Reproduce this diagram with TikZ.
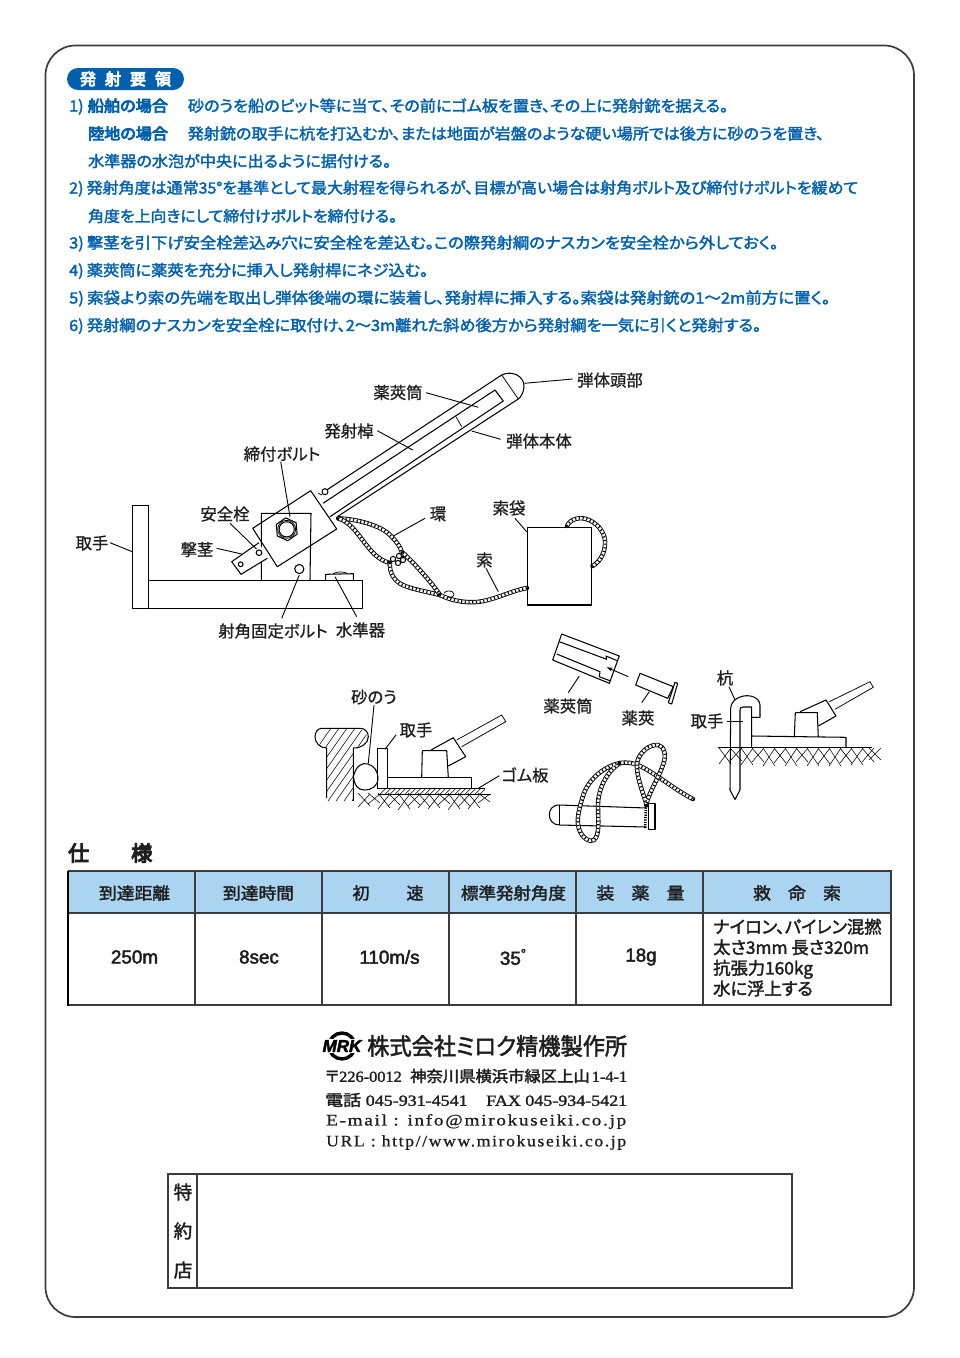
\documentclass[tikz,border=0pt]{standalone}
\usepackage{fontspec}
\usepackage{graphicx}
\usetikzlibrary{arrows.meta}
\setmainfont{Liberation Sans}
\newfontfamily\cjk[RawFeature=+palt,FakeBold=0.8]{Noto Sans CJK JP}
\newfontfamily\cjkm[RawFeature=+palt,FakeBold=2]{Noto Sans CJK JP}
\newfontfamily\cjkb[RawFeature=+palt,UprightFont=*,FakeBold=5]{Noto Sans CJK JP}
\newfontfamily\lat[FakeBold=2.5]{Liberation Sans}
\newfontfamily\ser{Liberation Serif}
\newfontfamily\serm[FakeBold=1.5]{Liberation Serif}
\newfontfamily\sers[LetterSpace=9,FakeBold=0.8]{Liberation Serif}
\definecolor{brand}{HTML}{0060AE}
\definecolor{headblue}{HTML}{ABD4F1}
\definecolor{ink}{HTML}{1E1E1E}
\definecolor{framegray}{HTML}{3C3C3C}
\tikzset{
  x=1pt,y=-1pt,
  plain/.style={line width=1.05pt,black,line join=round},
  thinl/.style={line width=0.75pt,black},
  leader/.style={line width=0.9pt,black},
  hatchl/.style={line width=0.55pt,black},
  bodyline/.style={anchor=west,inner sep=0pt,text=brand,font=\cjkm\fontsize{15.4}{18}\selectfont},
  lab/.style={inner sep=0pt,text=ink,font=\cjk\fontsize{16.4}{18}\selectfont},
  thead/.style={inner sep=0pt,text=ink,font=\cjkm\fontsize{16.6}{20}\selectfont},
  tdata/.style={inner sep=0pt,text=ink,font=\lat\fontsize{18.8}{20}\selectfont},
  addr/.style={anchor=west,inner sep=0pt,text=ink},
  rope/.style={line width=4.4pt,black,line cap=round,
    postaction={draw,white,line width=2.6pt,line cap=butt,
      postaction={draw,black,line width=2.6pt,line cap=butt,dash pattern=on 1.1pt off 2.6pt}}},
}
\newcommand\lead[3]{\coordinate (#1a) at #2; \coordinate (#1b) at #3; \draw[leader] (#1a) -- (#1b);}
\newcommand\xfit[2]{\resizebox{#1pt}{\height}{#2}}
\begin{document}
\begin{tikzpicture}
\useasboundingbox (0,0) rectangle (960,1358);
\fill[white] (0,0) rectangle (960,1358);
% outer frame
\draw[framegray,line width=1.7pt,rounded corners=30pt] (45.5,45.5) rectangle (914,1317);
% section pill
\node[fill=brand,rounded corners=11pt,minimum width=117pt,minimum height=22pt,inner sep=0pt,text=white,font=\cjkb\fontsize{16}{18}\selectfont] (pill) at (125.5,79) {発\hspace{9pt}射\hspace{9pt}要\hspace{9pt}領};
% instructions
\node[bodyline] (t1) at (69,106.5) {\xfit{659}{1)\hspace{4pt}{\cjkb 船舶の場合}\hspace{19pt}砂のうを船のビット等に当て、その前にゴム板を置き、その上に発射銃を据える。}};
\node[bodyline] (t2) at (88,133.5) {\xfit{736}{{\cjkb 陸地の場合}\hspace{19pt}発射銃の取手に杭を打込むか、または地面が岩盤のような硬い場所では後方に砂のうを置き、}};
\node[bodyline] (t3) at (88,161) {\xfit{303}{水準器の水泡が中央に出るように据付ける。}};
\node[bodyline] (t4) at (69,188.5) {\xfit{789}{2)\hspace{3pt}発射角度は通常35°を基準として最大射程を得られるが、目標が高い場合は射角ボルト及び締付けボルトを緩めて}};
\node[bodyline] (t5) at (88,216) {\xfit{309}{角度を上向きにして締付けボルトを締付ける。}};
\node[bodyline] (t6) at (69,243.5) {\xfit{709}{3)\hspace{3pt}撃茎を引下げ安全栓差込み穴に安全栓を差込む。この際発射綱のナスカンを安全栓から外しておく。}};
\node[bodyline] (t7) at (69,271) {\xfit{359}{4)\hspace{3pt}薬莢筒に薬莢を充分に挿入し発射桿にネジ込む。}};
\node[bodyline] (t8) at (69,298.5) {\xfit{761}{5)\hspace{3pt}索袋より索の先端を取出し弾体後端の環に装着し、発射桿に挿入する。索袋は発射銃の1～2m前方に置く。}};
\node[bodyline] (t9) at (69,326) {\xfit{692}{6)\hspace{3pt}発射綱のナスカンを安全栓に取付け、2～3m離れた斜め後方から発射綱を一気に引くと発射する。}};

% ===== main gun =====
\draw[plain] (132.3,505.7) rectangle (148.7,608.3);
\draw[plain] (148.7,580.3) -- (362.3,580.3) -- (362.3,608.3) -- (148.7,608.3);
\draw[plain] (261.3,580.3) -- (261.3,513.3) -- (311,513.3) -- (310,580.3);
% tube
\draw[plain] (326.7,490) -- (501.7,375) .. controls (512,370) and (524,376) .. (524,386) .. controls (524,392) and (521,397) .. (518.3,399) -- (338.3,516);
\draw[thinl] (501.7,375) -- (518.3,399);
\draw[plain] (323,503.3) -- (495,390) -- (503.3,401) -- (330,516.7);
\draw[thinl] (456,416.7) -- (461.7,426.7);
% striker and pin
\draw[plain,fill=white] (259,542.7) -- (231.7,561.7) -- (241,574.3) -- (267.3,558.3);
\draw[plain] (240.7,564.3) circle (2.4);
\draw[plain,fill=white] (259,552.7) circle (2.8);
% plate
\draw[plain] (252.7,528.3) -- (310.7,490.7) -- (336.7,529) -- (277.3,566.7) -- cycle;
\draw[plain] (325,491.7) circle (3);
\draw[thinl] (318.3,493.3) -- (322,495);
% bolt
\draw[plain] (286.7,529.3) +(25:11.5) -- +(85:11.5) -- +(145:11.5) -- +(205:11.5) -- +(265:11.5) -- +(325:11.5) -- cycle;
\draw[plain] (286.7,529.3) circle (7.6);
\draw[thinl] (286.7,529.3) circle (9);
\draw[plain] (299.3,569) circle (4.6);
% level
\draw[plain] (325.7,580.3) -- (325.7,574.3) -- (353.3,573.7) -- (353.3,580.3);
\draw[thinl] (333,574) .. controls (336,571.5) and (344,571) .. (348,573.7);
% ropes
\draw[rope] (338.3,518.3) .. controls (356,519) and (380,525) .. (390,535) .. controls (397,542) and (403,550) .. (402,556);
\draw[rope] (338.3,518.3) .. controls (352,523) and (358,535) .. (368,547) .. controls (375,556) and (382,561) .. (390,563);
\draw[rope] (390,563) .. controls (389,572) and (394,582) .. (405,586) .. controls (416,590) and (428,592) .. (440,595);
\draw[rope] (403,553) .. controls (411,560) and (430,580) .. (440,595);
\draw[rope] (440,595) .. controls (450,600) and (463,603) .. (477,602) .. controls (495,600) and (510,591) .. (527,588);
\draw[plain,fill=white] (393,559) circle (2.6) (399,556) circle (2.6) (403,560) circle (2.6) (398,563) circle (2.6);
\draw[thinl] (444,593) .. controls (446,590) and (453,590) .. (454,594) .. controls (454,597) and (450,598) .. (448,597);
% bag
\draw[plain] (527.7,527.3) rectangle (591.7,605);
\draw[rope] (567,526) .. controls (570,519) and (580,516) .. (589,520) .. controls (600,525) and (606,535) .. (605,545) .. controls (604,556) and (598,563) .. (592.5,566);
% leaders and labels - main figure
\node[lab] (hd) at (610,380) {弾体頭部}; \lead{hd}{(524.3,383.3)}{(572.7,379)}
\node[lab] (cs) at (398,392.5) {薬莢筒}; \lead{cs}{(426,392.7)}{(478.3,407.3)}
\node[lab] (rd) at (349,431) {発射棹}; \lead{rd}{(377.3,430.7)}{(412.7,450)}
\node[lab] (bd) at (539,441) {弾体本体}; \lead{bd}{(471.7,431)}{(500.7,439.3)}
\node[lab] (sh) at (282,454) {締付ボルト}; \lead{sh}{(280.7,461.7)}{(290,516.7)}
\node[lab] (an) at (225,514) {安全栓}; \lead{an}{(230,523.3)}{(256.5,549)}
\node[lab] (gk) at (197,549.5) {撃茎}; \lead{gk}{(216.7,548.3)}{(241.7,554)}
\node[lab] (to) at (92,543) {取手}; \lead{to}{(110,542.7)}{(132.3,551.7)}
\node[lab] (kk) at (273,631) {射角固定ボルト}; \lead{kk}{(299.3,575)}{(281.7,618.3)}
\node[lab] (sj) at (360.5,630) {水準器}; \lead{sj}{(335,576.7)}{(356.7,616.7)}
\node[lab] (wa) at (438,514) {環}; \lead{wa}{(425,518.3)}{(393.3,536)}
\node[lab] (fu) at (509,508) {索袋}; \lead{fu}{(515,518.3)}{(526.7,531.7)}
\node[lab] (sa) at (484.5,560) {索}; \lead{sa}{(486,568.3)}{(498.3,591.7)}

% ===== bitt figure =====
\begin{scope}
\clip (326.7,801) -- (326.7,748) -- (316.7,743) -- (315,736.7) -- (321.7,728.3) -- (360,728.3) -- (368.3,736.7) -- (363.3,745) -- (353.3,748) -- (353.3,801) -- cycle;
\foreach \i in {0,8,...,96} \draw[hatchl] (315+\i-35,801) -- ++(70,-100);
\end{scope}
\draw[plain] (326.7,798) -- (326.7,748) .. controls (320,748) and (315,743) .. (315,736.7) .. controls (315,732) and (318,728.3) .. (321.7,728.3) -- (360,728.3) .. controls (365,728.3) and (368.3,732) .. (368.3,736.7) .. controls (368.3,743) and (362,748) .. (353.3,748) -- (353.3,801);
\draw[plain,fill=white] (353.5,776) .. controls (356,766) and (362,762) .. (368,764) .. controls (374,766) and (378,771) .. (378,778) .. controls (378,786) and (372,790) .. (364,790) .. controls (358,790) and (354,785) .. (353.5,776) -- cycle;
\draw[plain] (377.7,748.3) rectangle (387.3,788.3);
\draw[plain] (387.3,777.3) -- (471.7,777.3) -- (471.7,788.3);
\draw[plain] (422.3,750.7) -- (446.7,750.7) -- (448.3,777.3);
\draw[plain] (422.3,750.7) -- (421.7,777.3);
\draw[plain] (431,750) -- (453.3,737.7) -- (465.7,756.7) -- (448.3,766);
\draw[thinl] (456.7,740) -- (501.7,715) -- (505.7,721.7) -- (461.7,746.7);
\draw[plain] (377.7,788.3) -- (485,788.3);
\draw[plain] (377.7,794.3) -- (491,794.3);
\begin{scope}
\clip (377.7,788.3) rectangle (485,794.3);
\foreach \i in {380,385,...,490} \draw[hatchl] (\i,794.3) -- ++(6,-6);
\end{scope}
\foreach \i/\h in {358/13,368/10,378/15,388/12,398/16,408/12,418/14,428/15,438/11,448/16,458/13,468/15,478/9}
  \draw[hatchl] (\i,793) -- (\i+12,793+\h) (\i+12,794) -- (\i,794+\h);
\node[lab] (sn) at (374,697) {砂のう}; \lead{sn}{(374,705)}{(368.3,763.3)}
\node[lab] (th) at (416,730) {取手}; \lead{th}{(396,735)}{(385,749.3)}
\node[lab] (gm) at (525,775) {ゴム板}; \lead{gm}{(499.3,775.7)}{(478.3,788.3)}

% ===== cartridge detail =====
\draw[plain] (561.7,634) -- (619.3,656) -- (609.3,683.3) -- (552.7,660) -- cycle;
\draw[plain] (559.3,641.7) -- (606.7,659.3) -- (606,656) -- (618,661);
\draw[plain] (556.7,654) -- (600,671.7) -- (599.3,676.7) -- (610.7,681);
\coordinate (arA) at (628.3,676.7); \coordinate (arB) at (606.7,667.3);
\draw[leader,-{Stealth[length=6pt,width=4pt]}] (arA) -- (arB);
\draw[plain] (640,673.3) -- (673.3,686.7) -- (667.7,698.3) -- (635.7,685) -- cycle;
\draw[plain] (675,682.3) -- (677.7,683.3) -- (671.7,704) -- (668.3,702.7) -- cycle;
\node[lab] (ct) at (568,706) {薬莢筒}; \lead{ct}{(579.3,676)}{(568.3,692.7)}
\node[lab] (cc) at (638,718) {薬莢}; \lead{cc}{(649.3,691.7)}{(641.7,702.7)}

% ===== projectile with rope =====
\draw[plain] (559.3,805) .. controls (552,805) and (549.3,810) .. (549.3,815) .. controls (549.3,820) and (553,825) .. (559.3,825);
\draw[plain] (559.3,805) -- (646.7,808) (559.3,825) -- (646.7,827);
\draw[thinl] (559.3,805) -- (559.3,825);
\draw[plain] (648.3,803.3) rectangle (655,829.3);
\draw[rope] (620,763) .. controls (605,766) and (590,778) .. (584,793) .. controls (579,808) and (576,820) .. (579,829) .. controls (582,838) and (590,843) .. (594,840) .. controls (600,835) and (598,820) .. (598,805) .. controls (598,790) and (606,772) .. (620,763);
\draw[rope] (620,763) .. controls (628,762) and (634,763) .. (640,766) .. controls (655,773) and (675,790) .. (693,799);
\draw[rope] (646.7,805) .. controls (642,790) and (636,775) .. (637,763) .. controls (639,752) and (650,744) .. (658,745) .. controls (664,746) and (667,755) .. (663,765) .. controls (659,777) and (650,790) .. (646,805);
\draw[line width=2.6pt,black,dash pattern=on 1.2pt off 1.2pt] (646,805) -- (645,829);

% ===== peg figure =====
\draw[plain] (730,790) -- (730.7,708.3) .. controls (731,700) and (740,695.7) .. (747,695.7) .. controls (755,695.7) and (760,700) .. (760,705) -- (760,717.3) -- (751.7,717.3);
\draw[plain] (740,790) -- (740,710) .. controls (740,708) and (741,707) .. (743,707) -- (751.7,707) -- (751.7,747.3);
\draw[plain] (730,790) -- (735,799.5) -- (740,790);
\draw[plain] (751.7,736) -- (846,737.3) -- (846,747.3);
\draw[plain] (717.7,747.3) -- (871.7,747.3);
\draw[plain] (795.3,712.7) -- (817.3,712.7) -- (818.3,737.3);
\draw[plain] (795.3,712.7) -- (794.3,737.3);
\draw[plain] (800,711.7) -- (826,700) -- (836,716) -- (818.3,726);
\draw[thinl] (829.3,701.7) -- (870,681.7) -- (873.3,687.3) -- (835,709.3);
\foreach \i/\h in {719/16,730/13,741/17,752/14,763/18,774/15,785/18,796/14,807/18,818/16,829/18,840/15,851/17,862/14,869/12}
  \draw[hatchl] (\i,748) -- (\i+12,748+\h) (\i+12,748) -- (\i,748+\h);
\node[lab] (pg) at (725,678) {杭}; \lead{pg}{(729,686.7)}{(735,700)}
\node[lab] (hn) at (707,721) {取手}; \lead{hn}{(726.7,721)}{(743.3,721)}

% ===== spec table =====
\node[anchor=west,inner sep=0pt,text=ink,font=\cjkb\fontsize{21}{24}\selectfont] (spec) at (68,853) {仕\hspace{42pt}様};
\fill[headblue] (68,871) rectangle (891,913);
\draw[framegray,line width=1.2pt] (68,871) -- (891,871) -- (891,1005) -- (68,1005);
\draw[framegray,line width=1.2pt] (68,913) -- (891,913);
\draw[black,line width=2pt] (68,870.5) -- (68,1005.5);
\foreach \x in {195,322,449,576,703} \draw[framegray,line width=1.2pt] (\x,871) -- (\x,1005);
\node[thead] (h1) at (134.5,893) {\xfit{71}{到達距離}};
\node[thead] (h2) at (258.5,893) {\xfit{71}{到達時間}};
\node[thead] (h3) at (388,893) {\xfit{71}{初\hspace{36pt}速}};
\node[thead] (h4) at (513.5,893) {\xfit{105}{標準発射角度}};
\node[thead] (h5) at (640.5,893) {\xfit{88}{装\hspace{16pt}薬\hspace{16pt}量}};
\node[thead] (h6) at (797,893) {\xfit{88}{救\hspace{16pt}命\hspace{16pt}索}};
\node[tdata] (d1) at (134.5,957) {250m};
\node[tdata] (d2) at (259,957) {8sec};
\node[tdata] (d3) at (389.5,957) {110m/s};
\node[tdata] (d4) at (513,957) {35\raisebox{0.35em}{\fontsize{13}{14}\selectfont °}};
\node[tdata] (d5) at (641,957) {18g};
\node[anchor=north west,inner sep=0pt,align=left,text=ink,font=\cjkm\fontsize{17.3}{20.6}\selectfont] (d6) at (713,918.5) {ナイロン、パイレン混撚\\太さ3mm 長さ320m\\抗張力160kg\\水に浮上する};

% ===== company =====
\draw[black,line width=3.4pt] (342,1046) circle (13);
\fill[white] (322,1039) rectangle (360,1053);
\node[inner sep=0pt,text=black,font=\lat\bfseries\itshape\fontsize{17}{18}\selectfont] (logo) at (342,1046) {MRK};
\node[addr,font=\cjkm\fontsize{23.5}{26}\selectfont] (co) at (367,1046) {\xfit{260}{株式会社ミロク精機製作所}};
\node[addr,font=\cjkm\fontsize{15.5}{18}\selectfont] (a1) at (325,1076) {\xfit{302}{〒{\serm 226-0012}\hspace{8pt}神奈川県横浜市緑区上山{\serm\hspace{2pt}1-4-1}}};
\node[addr,font=\cjkm\fontsize{15.5}{18}\selectfont] (a2) at (325,1100) {\xfit{302}{電話{\serm\hspace{4pt}045-931-4541\hspace{16pt}FAX 045-934-5421}}};
\node[addr,font=\sers\fontsize{16}{18}\selectfont] (a3) at (326,1121.5) {\xfit{300}{E-mail : info@mirokuseiki.co.jp}};
\node[addr,font=\sers\fontsize{16}{18}\selectfont] (a4) at (326,1142.5) {\xfit{300}{URL : http//www.mirokuseiki.co.jp}};

% ===== dealer box =====
\draw[framegray,line width=1.3pt] (168,1174) rectangle (792,1288);
\draw[framegray,line width=1.3pt] (197,1174) -- (197,1288);
\node[inner sep=0pt,text=ink,font=\cjkm\fontsize{18.5}{20}\selectfont] (s1) at (183,1192) {特};
\node[inner sep=0pt,text=ink,font=\cjkm\fontsize{18.5}{20}\selectfont] (s2) at (183,1231) {約};
\node[inner sep=0pt,text=ink,font=\cjkm\fontsize{18.5}{20}\selectfont] (s3) at (183,1270) {店};
\end{tikzpicture}
\end{document}
